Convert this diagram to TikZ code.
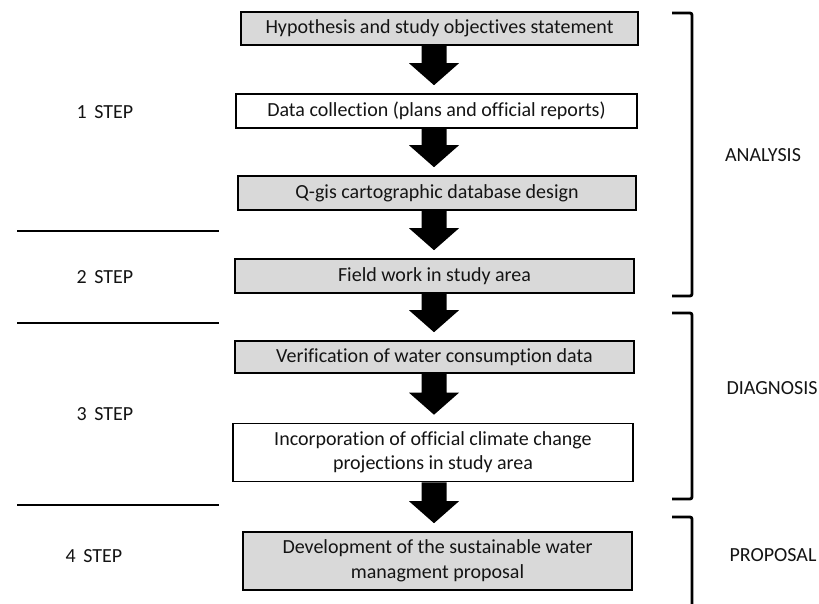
\documentclass[tikz,border=0pt]{standalone}
\usepackage{fontspec}
\setmainfont{Carlito}[Ligatures=NoCommon]
\usetikzlibrary{calc}
\definecolor{boxgray}{HTML}{D9D9D9}
\definecolor{txt}{HTML}{141414}
\tikzset{
  flowbox/.style={draw=black, line width=1.6pt, inner sep=0pt, align=center,
    font=\fontsize{20}{24.5}\selectfont, text=txt},
  graybox/.style={flowbox, fill=boxgray},
  whitebox/.style={flowbox, fill=white},
  steplabel/.style={font=\fontsize{20}{24}\selectfont, text=txt, inner sep=0pt},
  phaselabel/.style={font=\fontsize{20}{24}\selectfont, text=txt, inner sep=0pt},
  bracketline/.style={line width=2.8pt, rounded corners=2pt},
  sepline/.style={line width=2.8pt},
}
\newcommand\flowarrow[2]{%
  \fill[black] let \p1=(#1.south), \p2=(#2.north) in
    (421.5pt,\y1) -- (446.5pt,\y1) -- (446.5pt,\y2+30pt) -- (459pt,\y2+30pt)
    -- (434pt,\y2+8pt) -- (409pt,\y2+30pt) -- (421.5pt,\y2+30pt) -- cycle;}
\newcommand\stp[1]{#1\hspace{7.5pt}STEP}
\begin{document}
\begin{tikzpicture}[x=1pt,y=-1pt]
\useasboundingbox (0,0) rectangle (819,603);
% boxes
\node[graybox, minimum width=397pt, minimum height=33pt] (b1) at (439.5,28.5) {Hypothesis and study objectives statement};
\node[whitebox, minimum width=401pt, minimum height=34pt] (b2) at (436.5,111) {Data collection (plans and official reports)};
\node[graybox, minimum width=398pt, minimum height=34pt] (b3) at (437,193) {Q-gis cartographic database design};
\node[graybox, minimum width=399pt, minimum height=34pt] (b4) at (434.5,276) {Field work in study area};
\node[graybox, minimum width=399pt, minimum height=32pt] (b5) at (434.5,357) {Verification of water consumption data};
\node[whitebox, minimum width=400pt, minimum height=58pt] (b6) at (433,452.5) {Incorporation of official climate change\\projections in study area};
\node[graybox, minimum width=389pt, minimum height=58pt] (b7) at (437.5,561) {Development of the sustainable water\\managment proposal};
% arrows
\flowarrow{b1}{b2}
\flowarrow{b2}{b3}
\flowarrow{b3}{b4}
\flowarrow{b4}{b5}
\flowarrow{b5}{b6}
\flowarrow{b6}{b7}
% step labels
\node[steplabel] (s1) at (105,112) {\stp{1}};
\node[steplabel] (s2) at (105,277) {\stp{2}};
\node[steplabel] (s3) at (105,414) {\stp{3}};
\node[steplabel] (s4) at (94,556) {\stp{4}};
% separator lines
\draw[sepline] (17,231) -- (219,231);
\draw[sepline] (17,323) -- (219,323);
\draw[sepline] (17,505) -- (219,505);
% brackets
\draw[bracketline] (672,13) -- (692,13) -- (692,296) -- (672,296);
\draw[bracketline] (672,313) -- (692,313) -- (692,499) -- (672,499);
\draw[bracketline] (672,517) -- (692,517) -- (692,606);
% phase labels
\node[phaselabel] (p1) at (763,155) {ANALYSIS};
\node[phaselabel] (p2) at (772,388) {DIAGNOSIS};
\node[phaselabel] (p3) at (773,555) {PROPOSAL};
\end{tikzpicture}
\end{document}
